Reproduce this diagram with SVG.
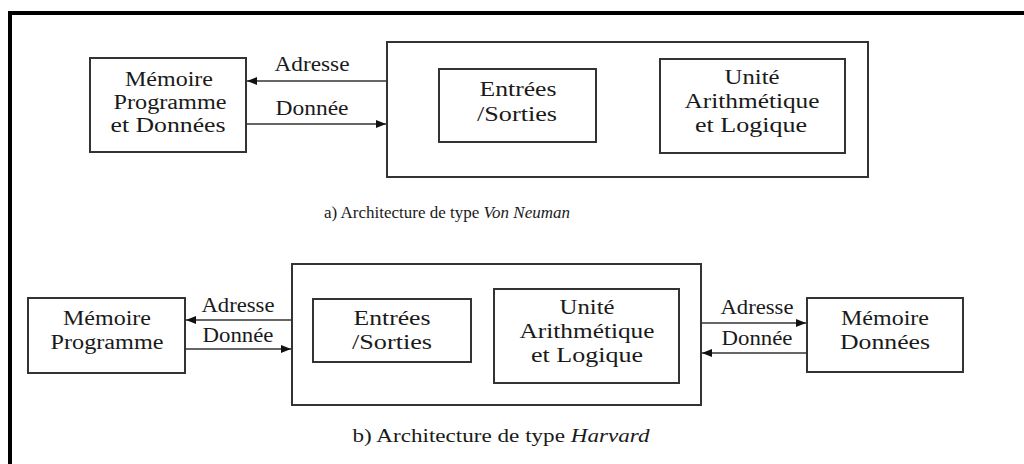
<svg xmlns="http://www.w3.org/2000/svg" width="1024" height="464" viewBox="0 0 1024 464">
  <style>
    .frame { fill: none; stroke: #000; stroke-width: 4; }
    .box { fill: #fff; stroke: #333; stroke-width: 2; }
    .wire { fill: none; stroke: #333; stroke-width: 1.6; }
    text { font-family: "Liberation Serif", "Times New Roman", serif; fill: #1a1a1a; text-anchor: middle; }
    .lbl { font-size: 20px; }
    .cap { font-size: 17px; }
    .it { font-style: italic; }
  </style>
  <defs>
    <marker id="arrow" viewBox="0 0 10 8" refX="10" refY="4" markerWidth="10" markerHeight="8" markerUnits="userSpaceOnUse" orient="auto">
      <path d="M0,0 L10,4 L0,8 Z" fill="#111"/>
    </marker>
  </defs>

  <rect width="1024" height="464" fill="#fff"/>
  <rect class="frame" x="10" y="13" width="1100" height="520"/>

  <!-- a) Von Neuman -->
  <g id="vn-memoire">
    <rect class="box" x="90" y="58" width="156" height="94"/>
    <text class="lbl" x="169" y="86" textLength="88" lengthAdjust="spacingAndGlyphs">Mémoire</text>
    <text class="lbl" x="170" y="109" textLength="113" lengthAdjust="spacingAndGlyphs">Programme</text>
    <text class="lbl" x="168" y="132" textLength="115" lengthAdjust="spacingAndGlyphs">et Données</text>
  </g>
  <g id="vn-processeur">
    <rect class="box" x="387" y="42" width="481" height="135"/>
  </g>
  <g id="vn-es">
    <rect class="box" x="439" y="69" width="157" height="73"/>
    <text class="lbl" x="518" y="96" textLength="77" lengthAdjust="spacingAndGlyphs">Entrées</text>
    <text class="lbl" x="517" y="121" textLength="80" lengthAdjust="spacingAndGlyphs">/Sorties</text>
  </g>
  <g id="vn-ual">
    <rect class="box" x="660" y="59" width="185" height="94"/>
    <text class="lbl" x="752" y="84" textLength="55" lengthAdjust="spacingAndGlyphs">Unité</text>
    <text class="lbl" x="752" y="108" textLength="135" lengthAdjust="spacingAndGlyphs">Arithmétique</text>
    <text class="lbl" x="751" y="132" textLength="112" lengthAdjust="spacingAndGlyphs">et Logique</text>
  </g>

  <!-- b) Harvard -->
  <g id="hv-memoire-prog">
    <rect class="box" x="28" y="298" width="157" height="75"/>
    <text class="lbl" x="107" y="325" textLength="88" lengthAdjust="spacingAndGlyphs">Mémoire</text>
    <text class="lbl" x="107" y="349" textLength="113" lengthAdjust="spacingAndGlyphs">Programme</text>
  </g>
  <g id="hv-processeur">
    <rect class="box" x="292" y="264" width="409" height="141"/>
  </g>
  <g id="hv-es">
    <rect class="box" x="313" y="299" width="158" height="63"/>
    <text class="lbl" x="392" y="325" textLength="77" lengthAdjust="spacingAndGlyphs">Entrées</text>
    <text class="lbl" x="392" y="349" textLength="80" lengthAdjust="spacingAndGlyphs">/Sorties</text>
  </g>
  <g id="hv-ual">
    <rect class="box" x="494" y="289" width="185" height="94"/>
    <text class="lbl" x="587" y="314" textLength="55" lengthAdjust="spacingAndGlyphs">Unité</text>
    <text class="lbl" x="587" y="338" textLength="135" lengthAdjust="spacingAndGlyphs">Arithmétique</text>
    <text class="lbl" x="587" y="362" textLength="112" lengthAdjust="spacingAndGlyphs">et Logique</text>
  </g>
  <g id="hv-memoire-donnees">
    <rect class="box" x="807" y="298" width="156" height="74"/>
    <text class="lbl" x="885" y="325" textLength="88" lengthAdjust="spacingAndGlyphs">Mémoire</text>
    <text class="lbl" x="885" y="349" textLength="90" lengthAdjust="spacingAndGlyphs">Données</text>
  </g>

  <!-- connectors -->
  <g id="connectors">
    <line class="wire" x1="386" y1="81" x2="247" y2="81" marker-end="url(#arrow)"/>
    <line class="wire" x1="246" y1="124" x2="386" y2="124" marker-end="url(#arrow)"/>
    <line class="wire" x1="291" y1="320" x2="186" y2="320" marker-end="url(#arrow)"/>
    <line class="wire" x1="185" y1="349" x2="291" y2="349" marker-end="url(#arrow)"/>
    <line class="wire" x1="701" y1="323" x2="806" y2="323" marker-end="url(#arrow)"/>
    <line class="wire" x1="807" y1="353" x2="702" y2="353" marker-end="url(#arrow)"/>
  </g>

  <!-- connector labels -->
  <g id="connector-labels">
    <text class="lbl" x="312" y="71" textLength="75" lengthAdjust="spacingAndGlyphs">Adresse</text>
    <text class="lbl" x="312" y="115" textLength="73" lengthAdjust="spacingAndGlyphs">Donnée</text>
    <text class="lbl" x="238" y="312" textLength="73" lengthAdjust="spacingAndGlyphs">Adresse</text>
    <text class="lbl" x="238" y="342" textLength="71" lengthAdjust="spacingAndGlyphs">Donnée</text>
    <text class="lbl" x="757" y="314" textLength="73" lengthAdjust="spacingAndGlyphs">Adresse</text>
    <text class="lbl" x="757" y="345" textLength="71" lengthAdjust="spacingAndGlyphs">Donnée</text>
  </g>

  <!-- captions -->
  <text class="cap" x="447" y="218">a) Architecture de type <tspan class="it">Von Neuman</tspan></text>
  <text class="cap" x="501" y="442" style="font-size:19px" textLength="297" lengthAdjust="spacingAndGlyphs">b) Architecture de type <tspan class="it">Harvard</tspan></text>
</svg>
